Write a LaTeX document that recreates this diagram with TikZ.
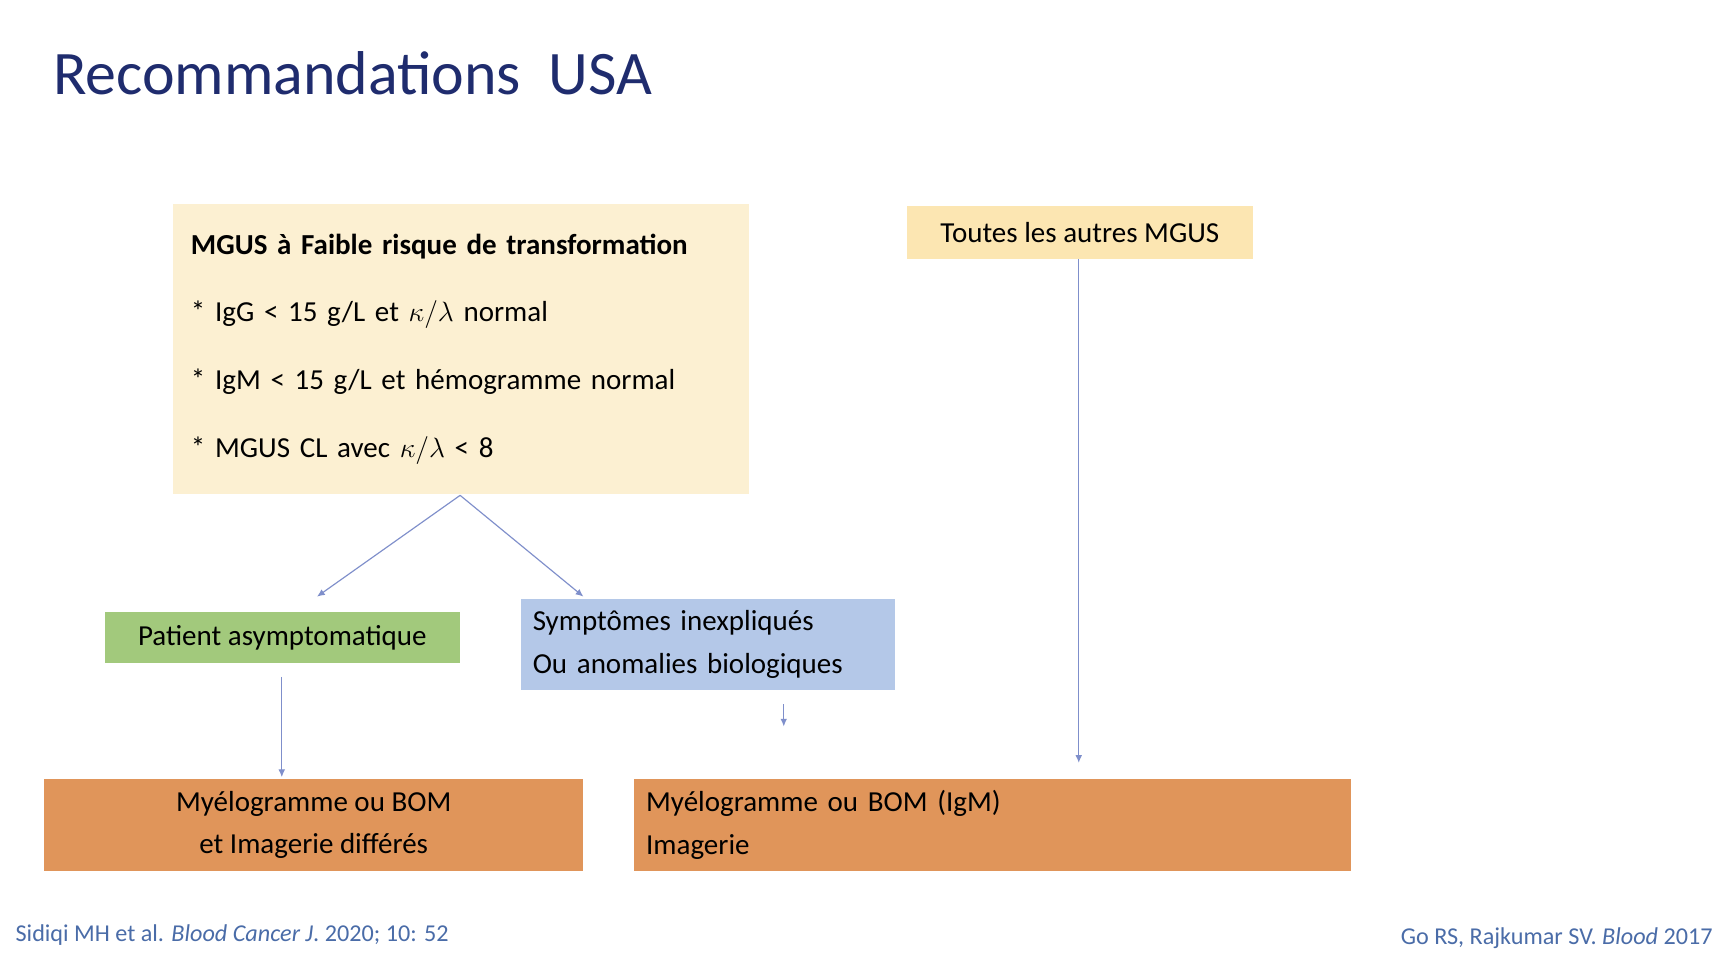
\documentclass[tikz,border=0pt]{standalone}
\usepackage{fontspec}
\setmainfont{Carlito}
\usetikzlibrary{arrows.meta}
\definecolor{titleblue}{HTML}{1F2C6E}
\definecolor{refblue}{HTML}{4A6CA8}
\definecolor{paleyellow}{HTML}{FCF0D2}
\definecolor{lightyellow}{HTML}{FCE6B2}
\definecolor{leafgreen}{HTML}{A2C97C}
\definecolor{skyblue}{HTML}{B4C8E8}
\definecolor{rust}{HTML}{E0955A}
\definecolor{arrowblue}{HTML}{7F8FCB}
\begin{document}
\begin{tikzpicture}[x=0.02cm, y=-0.02cm,
  boxed/.style={inner sep=0pt, align=left, font=\fontsize{15}{22}\selectfont},
  link/.style={-{Latex[length=4pt,width=3.5pt]}, draw=arrowblue, semithick}]

\useasboundingbox[fill=white] (0,0) rectangle (1568,868);

% Title
\node[anchor=base west, text=titleblue, font=\fontsize{32}{36}\selectfont] (title) at (42,86) {Recommandations\ \ USA};

% Upper boxes
\node[boxed, fill=paleyellow, minimum width=523*0.02cm, minimum height=264*0.02cm, text width=490*0.02cm] (lowrisk) at (418.5,317)
  {\textbf{MGUS à Faible risque de transformation}\\[13pt]
   * IgG < 15 g/L et $\kappa/\lambda$ normal\\[13pt]
   * IgM < 15 g/L et hémogramme normal\\[13pt]
   * MGUS CL avec $\kappa/\lambda$ < 8};
\node[boxed, fill=lightyellow, minimum width=314*0.02cm, minimum height=48*0.02cm, align=center] (others) at (981,211) {Toutes les autres MGUS};

% Middle boxes
\node[boxed, fill=leafgreen, minimum width=323*0.02cm, minimum height=46*0.02cm, align=center] (asympt) at (256.5,579) {Patient asymptomatique};
\node[boxed, fill=skyblue, minimum width=340*0.02cm, minimum height=83*0.02cm, text width=318*0.02cm] (sympt) at (643,585.5) {Symptômes inexpliqués\\Ou anomalies biologiques};

% Bottom boxes
\node[boxed, fill=rust, minimum width=490*0.02cm, minimum height=83*0.02cm, align=center] (deferred) at (285,749.5) {Myélogramme ou BOM\\et Imagerie différés};
\node[boxed, fill=rust, minimum width=651*0.02cm, minimum height=83*0.02cm, text width=629*0.02cm] (workup) at (901.5,749.5) {Myélogramme ou BOM (IgM)\\Imagerie};

% Arrows
\coordinate (split) at (418,450);
\coordinate (leftend) at (288,542);
\coordinate (rightend) at (530,542);
\coordinate (smalltop) at (712,640);
\coordinate (smallend) at (712,660);
\coordinate (asymptout) at (256,615);
\coordinate (deferredin) at (256,706);
\coordinate (othersend) at (980,693);
\draw[link] (split) -- (leftend);
\draw[link] (split) -- (rightend);
\draw[link] (asymptout) -- (deferredin);
\draw[link] (smalltop) -- (smallend);
\draw[link] (others.south -| othersend) -- (othersend);

% References
\node[anchor=base west, text=refblue, font=\fontsize{12.5}{14}\selectfont] (refleft) at (8,855) {Sidiqi MH et al. \textit{Blood Cancer J}. 2020; 10: 52};
\node[anchor=base east, text=refblue, font=\fontsize{12.5}{14}\selectfont] (refright) at (1562,858) {Go RS, Rajkumar SV. \textit{Blood} 2017};
\end{tikzpicture}
\end{document}
